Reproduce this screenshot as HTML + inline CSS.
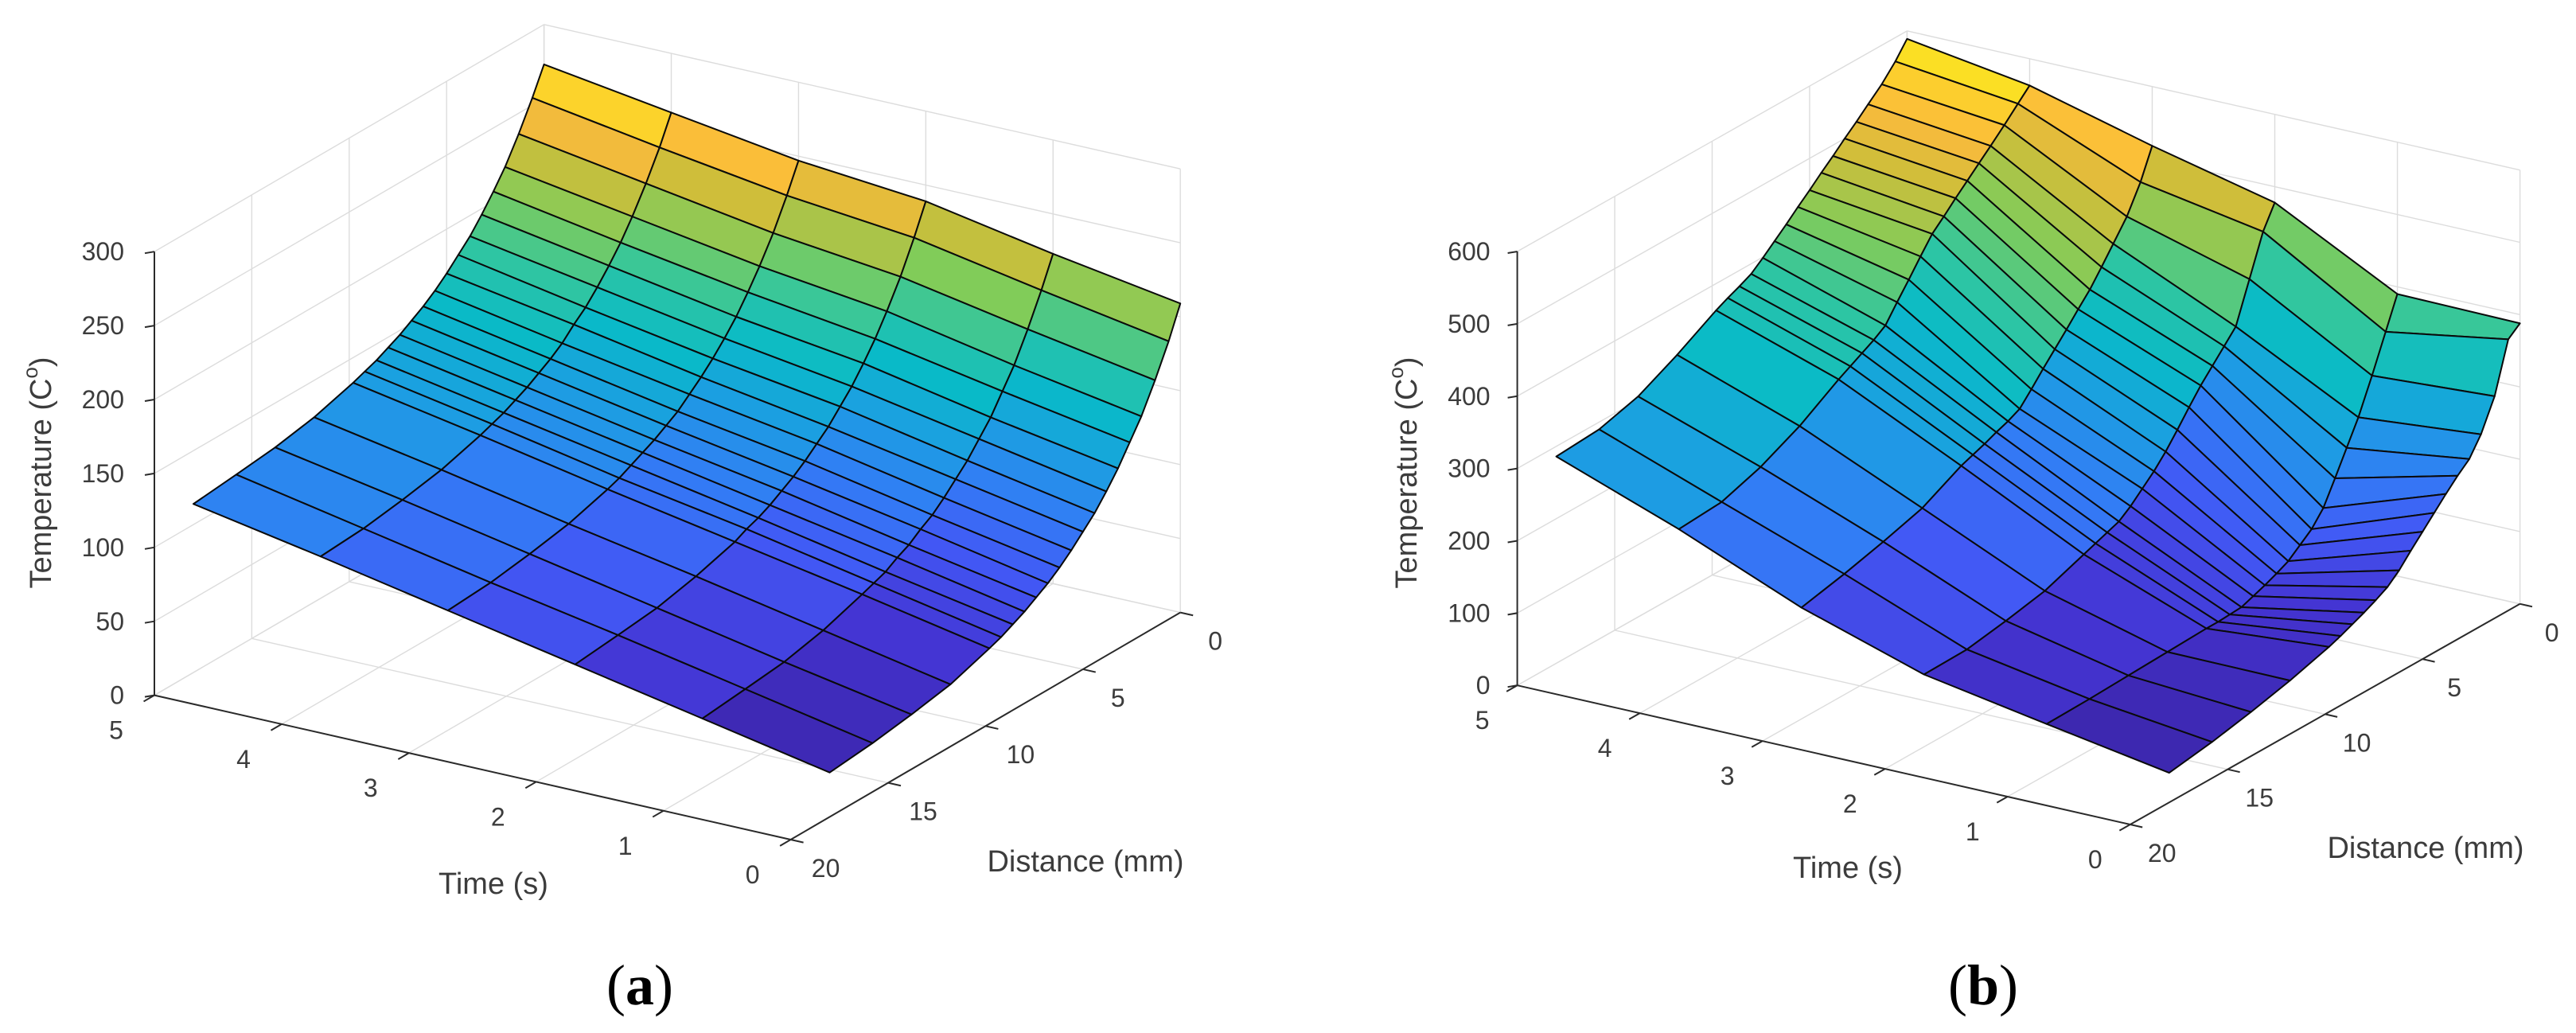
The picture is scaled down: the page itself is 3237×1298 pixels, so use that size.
<!DOCTYPE html>
<html><head><meta charset="utf-8"><style>
html,body{margin:0;padding:0;background:#fff;}
svg{display:block;}
text{font-family:"Liberation Sans",Arial,sans-serif;fill:#3c3c3c;}
.cap{font-family:"Liberation Serif","Times New Roman",serif;fill:#000;}
</style></head><body>
<svg id="fig" xmlns="http://www.w3.org/2000/svg" width="3237" height="1298" viewBox="0 0 1618.5 649">
<g id="panelA"></g>
<g id="panelB"></g>
<text class="cap" x="402" y="631" text-anchor="middle" font-size="36">(<tspan font-weight="bold">a</tspan>)</text>
<text class="cap" x="1246" y="631" text-anchor="middle" font-size="36">(<tspan font-weight="bold">b</tspan>)</text>
</svg>
<script>
// ---- data ----
const times = [0, 1, 2, 3, 4, 5];
const distances = [0, 0.6, 1.3, 2, 2.6, 3.2, 3.8, 4.4, 5, 5.6, 6.2, 6.8, 7.4, 8, 8.6, 9.2, 9.8, 11.8, 13.8, 15.8, 18];
const timeTicks = [0, 1, 2, 3, 4, 5];
const distTicks = [0, 5, 10, 15, 20];
const zTicksA = [0, 50, 100, 150, 200, 250, 300];
const zTicksB = [0, 100, 200, 300, 400, 500, 600];
// temperature (a): one row per time value, columns follow distances
const tempA = [
 [209,188,167,148,135,122,111,101,93,85,78,72,67,62,58,54,51,42,37,33,30],
 [223,203,182,163,150,137,127,117,109,101,94,89,83,79,74,71,68,59,53,50,47],
 [239,219,198,180,166,154,143,134,125,118,111,105,100,95,91,88,84,76,70,67,64],
 [247,228,208,191,178,166,156,147,139,132,125,120,115,111,107,103,100,92,87,83,81],
 [260,241,222,205,192,181,171,162,155,147,141,136,131,127,123,120,117,109,104,100,98],
 [273,255,236,219,207,196,186,178,170,163,157,152,147,143,139,136,133,125,120,117,114]
];
// temperature (b)
const tempB = [
 [388,375,307,265,240,226,210,193,176,159,141,127,118,110,103,96,90,74,61,50,41],
 [390,347,297,250,217,184,152,132,119,106,98,91,85,79,78,77,77,75,73,71,70],
 [478,447,392,337,319,301,283,262,240,219,201,186,171,159,153,147,141,121,110,101,100],
 [518,477,440,413,390,368,350,331,313,295,276,258,250,244,237,231,225,197,181,167,154],
 [563,547,528,510,495,480,465,449,434,412,389,367,344,333,324,315,306,272,246,228,224],
 [589,567,546,529,514,500,485,471,456,442,427,413,399,386,378,371,363,332,305,290,286]
];

const NS = "http://www.w3.org/2000/svg";
const parula = [[0,[58,34,160]],[0.1,[68,52,210]],[0.2,[66,88,245]],[0.3,[50,125,245]],[0.4,[28,158,226]],[0.5,[9,186,200]],[0.6,[48,198,160]],[0.7,[128,204,90]],[0.8,[206,190,58]],[0.87,[250,186,60]],[0.93,[252,208,44]],[1,[249,245,24]]];
function cmap(f){
  f=Math.max(0,Math.min(1,f));
  for(let i=1;i<parula.length;i++){
    if(f<=parula[i][0]){
      const a=parula[i-1],b=parula[i],u=(f-a[0])/(b[0]-a[0]);
      const c=a[1].map((v,k)=>Math.round(v+(b[1][k]-v)*u));
      return `rgb(${c[0]},${c[1]},${c[2]})`;
    }
  }
  return "rgb(249,245,24)";
}
function mk(tag, attrs, parent){
  const el=document.createElementNS(NS,tag);
  for(const k in attrs) el.setAttribute(k,attrs[k]);
  parent.appendChild(el);
  return el;
}

function drawPanel(g, cfg, temps, zTicks){
  const P=(t,d,z)=>[cfg.ox+t*cfg.tx+d*cfg.dx, cfg.oy+t*cfg.ty+d*cfg.dy+z*cfg.zk];
  const tMax=5, dMax=20, zMax=zTicks[zTicks.length-1];
  const grid=mk('g',{},g);
  
  
  const line=(a,b,stroke,w,par)=>mk('line',{x1:a[0].toFixed(2),y1:a[1].toFixed(2),x2:b[0].toFixed(2),y2:b[1].toFixed(2),stroke:stroke,'stroke-width':w},par);
  const gc="#dcdcdc", gw=0.7;
  distTicks.forEach(d=>{ if(d<dMax) line(P(tMax,d,0),P(tMax,d,zMax),gc,gw,grid); });
  zTicks.forEach(z=>{ line(P(tMax,0,z),P(tMax,dMax,z),gc,gw,grid); });
  timeTicks.forEach(t=>{ line(P(t,0,0),P(t,0,zMax),gc,gw,grid); });
  zTicks.forEach(z=>{ line(P(0,0,z),P(tMax,0,z),gc,gw,grid); });
  timeTicks.forEach(t=>{ line(P(t,0,0),P(t,dMax,0),gc,gw,grid); });
  distTicks.forEach(d=>{ line(P(0,d,0),P(tMax,d,0),gc,gw,grid); });

  const ax=mk('g',{},g);
  
  
  const ac="#2a2a2a", aw=1.0;
  line(P(tMax,dMax,0),P(tMax,dMax,zMax),ac,aw,ax);
  line(P(tMax,dMax,0),P(0,dMax,0),ac,aw,ax);
  line(P(0,dMax,0),P(0,0,0),ac,aw,ax);
  zTicks.forEach(z=>{
    const p=P(tMax,dMax,z);
    line(p,[p[0]-6,p[1]+1],ac,aw,ax);
    const tx=mk('text',{x:(p[0]-cfg.zlab).toFixed(1),y:(p[1]+5.5).toFixed(1),'text-anchor':'end','font-size':16},ax);
    tx.textContent=String(z);
    
    
  });
  timeTicks.forEach(t=>{
    const p=P(t,dMax,0), q=P(t,dMax+0.55,0);
    line(p,q,ac,aw,ax);
    const tx=mk('text',{x:(p[0]+cfg.tlx).toFixed(1),y:(p[1]+cfg.tly+5.5).toFixed(1),'text-anchor':'middle','font-size':16},ax);
    tx.textContent=String(t);
    
    
  });
  distTicks.forEach(d=>{
    const p=P(0,d,0), q=P(-0.1,d,0);
    line(p,q,ac,aw,ax);
    const tx=mk('text',{x:(p[0]+cfg.dlx).toFixed(1),y:(p[1]+cfg.dly+5.5).toFixed(1),'text-anchor':'middle','font-size':16},ax);
    tx.textContent=String(d);
    
    
  });
  const zt=mk('text',{x:cfg.zTitle[0],y:cfg.zTitle[1],'text-anchor':'middle','font-size':19,transform:`rotate(-90 ${cfg.zTitle[0]} ${cfg.zTitle[1]})`,'dominant-baseline':'central'},ax);
  zt.innerHTML='Temperature (C<tspan dy="-7" font-size="13">o</tspan><tspan dy="7">)</tspan>';
  
  
  const tt=mk('text',{x:cfg.tTitle[0],y:cfg.tTitle[1]+6.5,'text-anchor':'middle','font-size':19},ax);
  tt.textContent='Time (s)';
  
  
  const dt=mk('text',{x:cfg.dTitle[0],y:cfg.dTitle[1]+6.5,'text-anchor':'middle','font-size':19},ax);
  dt.textContent='Distance (mm)';
  
  

  const surf=mk('g',{},g);
  
  
  let lo=Infinity,hi=-Infinity;
  temps.forEach(r=>r.forEach(v=>{lo=Math.min(lo,v);hi=Math.max(hi,v);}));
  const faces=[];
  for(let i=0;i<times.length-1;i++){
    for(let j=0;j<distances.length-1;j++){
      const t0=times[i],t1=times[i+1],d0=distances[j],d1=distances[j+1];
      const v=[temps[i][j],temps[i+1][j],temps[i+1][j+1],temps[i][j+1]];
      const pts=[P(t0,d0,v[0]),P(t1,d0,v[1]),P(t1,d1,v[2]),P(t0,d1,v[3])];
      const avg=(v[0]+v[1]+v[2]+v[3])/4;
      const key=-(t0+t1)/2/5+(d0+d1)/2/20;
      faces.push({pts,avg,key});
    }
  }
  faces.sort((a,b)=>a.key-b.key);
  faces.forEach(f=>{
    const poly=mk('polygon',{points:f.pts.map(p=>p[0].toFixed(2)+','+p[1].toFixed(2)).join(' '),fill:cmap((f.avg-lo)/(hi-lo)),stroke:'#0a0a0a','stroke-width':1.0,'stroke-linejoin':'round'},surf);
    
    
  });
}

const cfgA={ox:741.6,oy:384.8,tx:-79.96,ty:-18.14,dx:-12.24,dy:7.135,zk:-0.929,zlab:19,tlx:-24,tly:22,dlx:22,dly:18,zTitle:[26,297],tTitle:[310,555],dTitle:[682,541]};
const cfgB={ox:1583.3,oy:379.4,tx:-77.02,ty:-17.48,dx:-12.245,dy:6.93,zk:-0.4543,zlab:17,tlx:-22,tly:22,dlx:20,dly:18,zTitle:[884,297],tTitle:[1161,545],dTitle:[1524,532.5]};
drawPanel(document.getElementById('panelA'),cfgA,tempA,zTicksA);
drawPanel(document.getElementById('panelB'),cfgB,tempB,zTicksB);
</script>
</body></html>
